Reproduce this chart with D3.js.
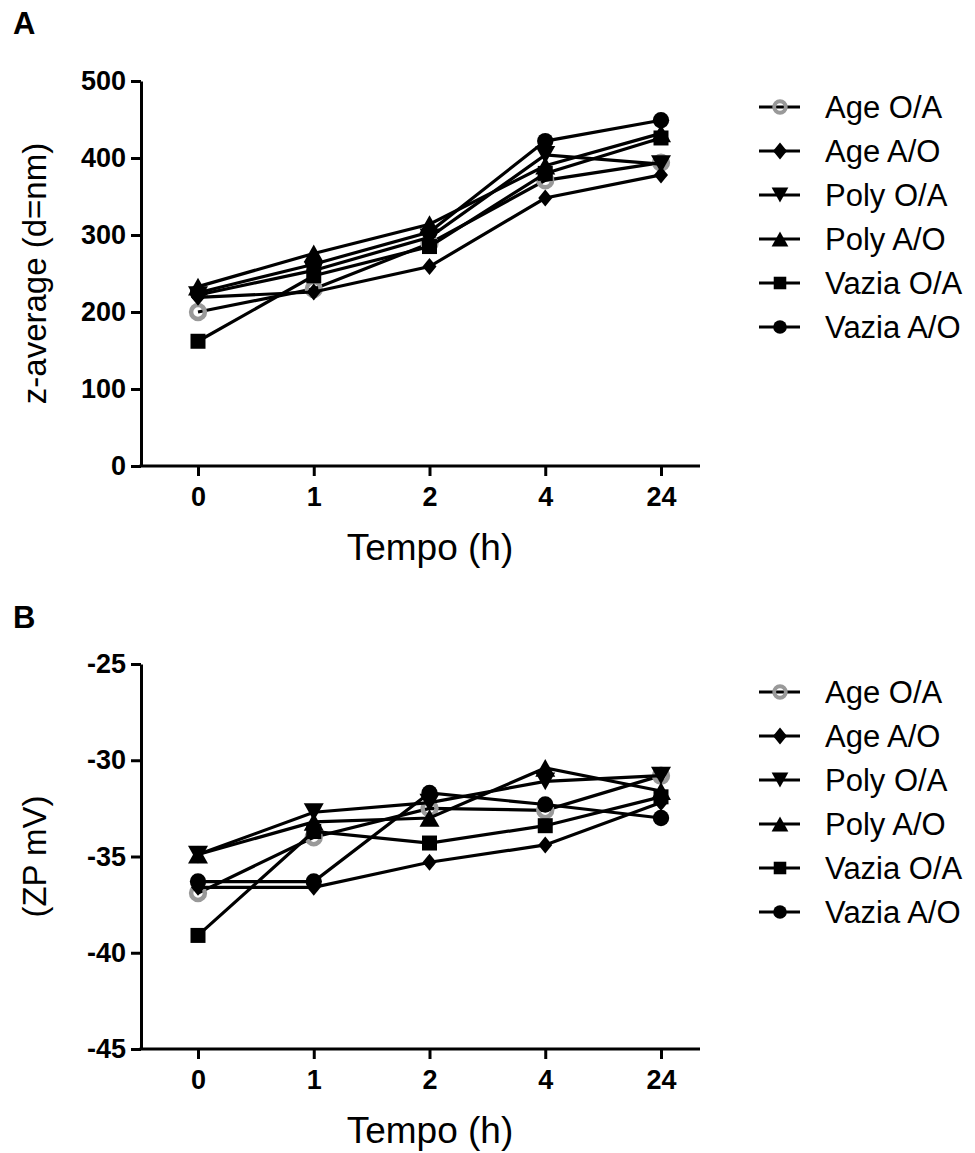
<!DOCTYPE html>
<html>
<head>
<meta charset="utf-8">
<script src="https://cdn.jsdelivr.net/npm/d3@7"></script>
<style>
  html, body { margin: 0; padding: 0; background: #fff; }
  svg { display: block; font-family: "Liberation Sans", Arial, sans-serif; }
</style>
</head>
<body>
<svg id="chart" width="975" height="1153"></svg>
<script>
// ---------- data ----------
const categories = ["0", "1", "2", "4", "24"];
const seriesNames = ["Age O/A", "Age A/O", "Poly O/A", "Poly A/O", "Vazia O/A", "Vazia A/O"];

// Panel A: z-average (d=nm)
const zAgeOA   = [200, 230, 289, 371, 394];
const zAgeAO   = [219, 226, 259, 348, 378];
const zPolyOA  = [222, 254, 297, 404, 392];
const zPolyAO  = [233, 276, 314, 390, 432];
const zVaziaOA = [162, 247, 285, 380, 426];
const zVaziaAO = [225, 262, 304, 422, 449];

// Panel B: ZP mV
const pAgeOA   = [-36.9, -34.0, -32.5, -32.6, -30.8];
const pAgeAO   = [-36.6, -36.6, -35.3, -34.4, -32.2];
const pPolyOA  = [-34.9, -32.7, -32.2, -31.1, -30.8];
const pPolyAO  = [-34.9, -33.2, -33.0, -30.4, -31.6];
const pVaziaOA = [-39.1, -33.7, -34.3, -33.4, -31.9];
const pVaziaAO = [-36.3, -36.3, -31.7, -32.3, -33.0];

const yTicksA = [0, 100, 200, 300, 400, 500];
const yTicksB = [-45, -40, -35, -30, -25];

// ---------- symbols ----------
const diamondType = { draw(ctx, size) { const w = 7, h = 8.5;
  ctx.moveTo(0, -h); ctx.lineTo(w, 0); ctx.lineTo(0, h); ctx.lineTo(-w, 0); ctx.closePath(); } };
const triDownType = { draw(ctx, size) { const s = Math.sqrt(size); const w = s * 0.62, h = s * 0.55;
  ctx.moveTo(-w, -h); ctx.lineTo(w, -h); ctx.lineTo(0, h); ctx.closePath(); } };
const triUpType = { draw(ctx, size) { const s = Math.sqrt(size); const w = s * 0.62, h = s * 0.55;
  ctx.moveTo(-w, h); ctx.lineTo(w, h); ctx.lineTo(0, -h); ctx.closePath(); } };

const styles = [
  { type: d3.symbolCircle, size: 150, fill: "none", stroke: "#999", sw: 4.5 },
  { type: diamondType,     size: 100, fill: "#000", stroke: "none", sw: 0 },
  { type: triDownType,     size: 260, fill: "#000", stroke: "none", sw: 0 },
  { type: triUpType,       size: 260, fill: "#000", stroke: "none", sw: 0 },
  { type: d3.symbolSquare, size: 225, fill: "#000", stroke: "none", sw: 0 },
  { type: d3.symbolCircle, size: 210, fill: "#000", stroke: "none", sw: 0 }
];

const svg = d3.select("#chart");
const fmt = d => String(d); // plain hyphen-minus as in the original

function panel(opts) {
  const { letter, letterY, yDomain, yRange, yTicks, values, yTitle, legendY } = opts;
  const x = d3.scalePoint().domain(categories).range([198, 661]);
  const y = d3.scaleLinear().domain(yDomain).range(yRange);
  const g = svg.append("g");
  const axisX0 = 141, axisX1 = 700;

  g.append("text").attr("x", 13).attr("y", letterY).text(letter)
    .attr("font-size", 31).attr("font-weight", "bold");

  // y axis
  const ya = g.append("g").attr("transform", `translate(${axisX0},0)`)
    .call(d3.axisLeft(y).tickValues(yTicks).tickFormat(fmt).tickSize(10).tickSizeOuter(0).tickPadding(5));
  ya.select(".domain").attr("stroke-width", 3).attr("stroke", "#000");
  ya.selectAll(".tick line").attr("stroke-width", 3);
  ya.selectAll(".tick text").attr("font-size", 27).attr("font-weight", "bold")
    .attr("font-family", "Liberation Sans, Arial, sans-serif").attr("fill", "#000");

  // x axis
  const base = yRange[0];
  const xa = g.append("g").attr("transform", `translate(0,${base})`)
    .call(d3.axisBottom(x).tickSize(10).tickSizeOuter(0).tickPadding(11));
  xa.select(".domain").remove();
  xa.selectAll(".tick line").attr("stroke-width", 3);
  xa.selectAll(".tick text").attr("font-size", 27).attr("font-weight", "bold")
    .attr("font-family", "Liberation Sans, Arial, sans-serif").attr("fill", "#000");
  g.append("line").attr("x1", axisX0 - 1.5).attr("x2", axisX1).attr("y1", base).attr("y2", base)
    .attr("stroke", "#000").attr("stroke-width", 3);

  // titles
  g.append("text").attr("x", 430).attr("y", base + 94).attr("text-anchor", "middle")
    .attr("font-size", 37).text("Tempo (h)");
  g.append("text").attr("transform", `translate(46,${(yRange[0] + yRange[1]) / 2}) rotate(-90)`)
    .attr("text-anchor", "middle").attr("font-size", 33).text(yTitle);

  // series
  const line = d3.line().x((d, i) => x(categories[i])).y(d => y(d));
  values.forEach((vals, si) => {
    const st = styles[si];
    const sg = g.append("g");
    sg.append("path").attr("d", line(vals)).attr("fill", "none")
      .attr("stroke", "#000").attr("stroke-width", 3.2);
    sg.selectAll("path.m").data(vals).join("path").attr("class", "m")
      .attr("transform", (d, i) => `translate(${x(categories[i])},${y(d)})`)
      .attr("d", d3.symbol().type(st.type).size(st.size))
      .attr("fill", st.fill).attr("stroke", st.stroke).attr("stroke-width", st.sw);
  });

  // legend
  const lg = g.append("g");
  seriesNames.forEach((name, i) => {
    const st = styles[i];
    const cy = legendY + i * 44;
    lg.append("line").attr("x1", 759).attr("x2", 800).attr("y1", cy).attr("y2", cy)
      .attr("stroke", "#000").attr("stroke-width", 3.2);
    lg.append("path").attr("transform", `translate(780,${cy})`)
      .attr("d", d3.symbol().type(st.type).size(st.size * 0.7))
      .attr("fill", st.fill).attr("stroke", st.stroke).attr("stroke-width", st.sw * 0.85);
    lg.append("text").attr("x", 825).attr("y", cy).attr("dy", "0.36em")
      .attr("font-size", 31).text(name);
  });
}

panel({ letter: "A", letterY: 34, yDomain: [0, 500], yRange: [466, 81], yTicks: yTicksA,
  values: [zAgeOA, zAgeAO, zPolyOA, zPolyAO, zVaziaOA, zVaziaAO],
  yTitle: "z-average (d=nm)", legendY: 107 });

panel({ letter: "B", letterY: 628, yDomain: [-45, -25], yRange: [1049, 664], yTicks: yTicksB,
  values: [pAgeOA, pAgeAO, pPolyOA, pPolyAO, pVaziaOA, pVaziaAO],
  yTitle: "(ZP mV)", legendY: 692 });
</script>
</body>
</html>
